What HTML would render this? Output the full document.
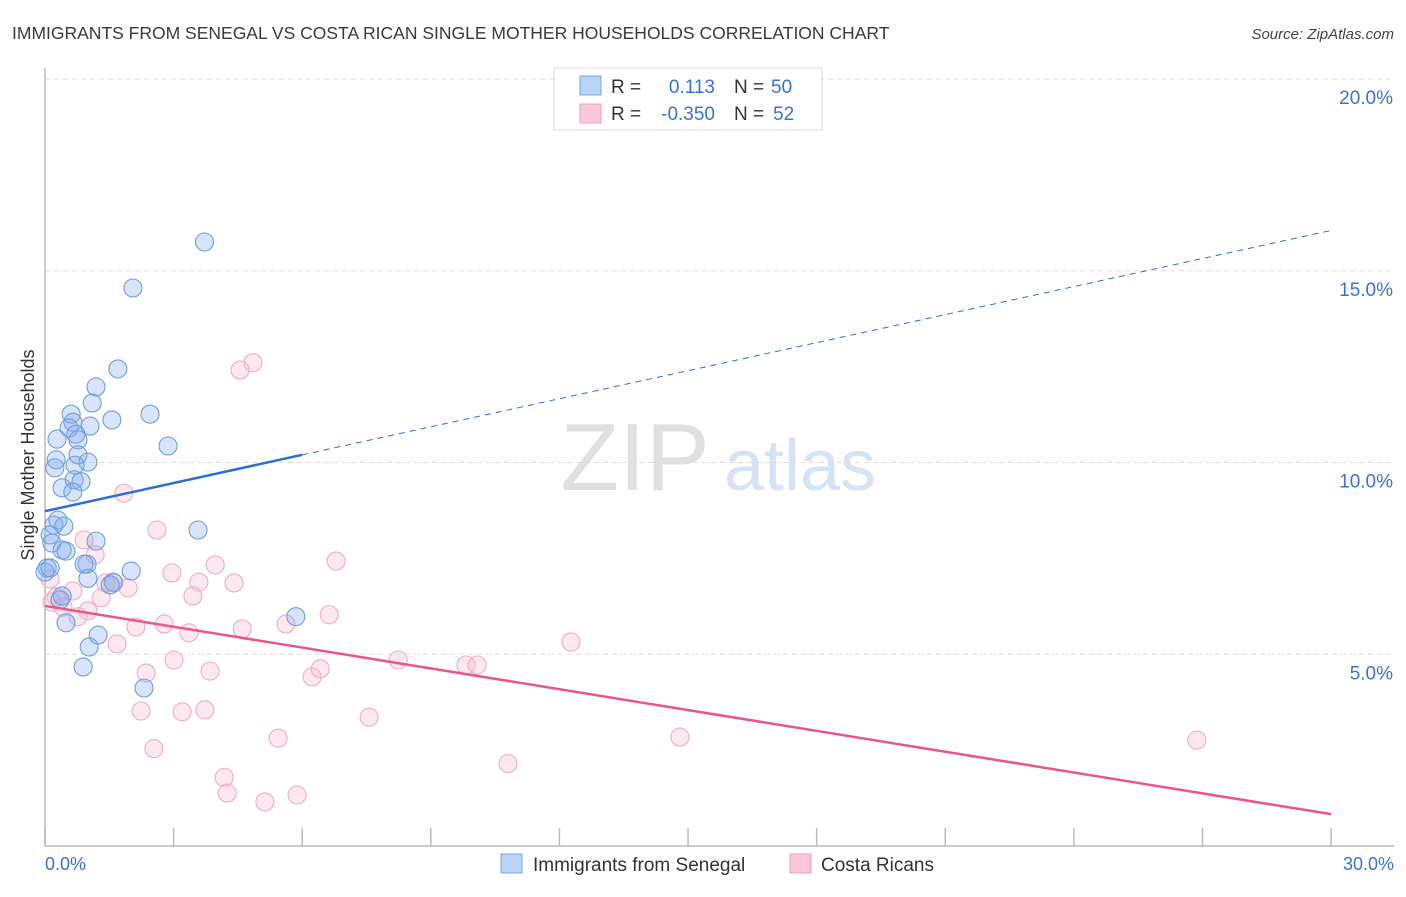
<!DOCTYPE html>
<html><head><meta charset="utf-8"><style>
body{margin:0;background:#fff;font-family:"Liberation Sans",sans-serif;}
svg text{font-family:"Liberation Sans",sans-serif;}
</style></head><body>
<svg id="chart" width="1406" height="892" xmlns="http://www.w3.org/2000/svg">
<text x="12" y="39" font-size="17.5" fill="#3a3a3a">IMMIGRANTS FROM SENEGAL VS COSTA RICAN SINGLE MOTHER HOUSEHOLDS CORRELATION CHART</text>
<text x="1394" y="39" font-size="15" fill="#444" font-style="italic" text-anchor="end">Source: ZipAtlas.com</text>
<g>
<text x="635" y="490" font-size="96" fill="#e0e0e0" font-family="Liberation Serif, serif" text-anchor="middle">ZIP</text>
<text x="800" y="490" font-size="72" fill="#d4e3f6" text-anchor="middle">atlas</text>
</g>
<g id="grid"></g>
<g id="axes"></g>
<g id="pts"></g>
<g id="lines"></g>
<text x="34" y="455" font-size="18" fill="#333" text-anchor="middle" transform="rotate(-90 34 455)">Single Mother Households</text>
<g>
<rect x="554" y="68" width="268" height="62" fill="#fff" stroke="#ddd"/>
<rect x="580" y="76" width="21" height="19" fill="#b8d3f5" stroke="#7aa6e0"/>
<rect x="580" y="104" width="21" height="19" fill="#fcc8d8" stroke="#eca0bb"/>
<text x="611" y="93" font-size="19" fill="#333">R =</text>
<text x="715" y="93" font-size="19" fill="#3a74d0" text-anchor="end">0.113</text>
<text x="734" y="93" font-size="19" fill="#333">N =</text>
<text x="771" y="93" font-size="19" fill="#3a74d0">50</text>
<text x="611" y="120" font-size="19" fill="#333">R =</text>
<text x="715" y="120" font-size="19" fill="#3a74d0" text-anchor="end">-0.350</text>
<text x="734" y="120" font-size="19" fill="#333">N =</text>
<text x="773" y="120" font-size="19" fill="#3a74d0">52</text>
</g>
<g>
<rect x="501" y="854" width="21" height="19" fill="#b8d3f5" stroke="#7aa6e0"/>
<text x="533" y="871" font-size="19" fill="#333">Immigrants from Senegal</text>
<rect x="790" y="854" width="21" height="19" fill="#fcc8d8" stroke="#eca0bb"/>
<text x="821" y="871" font-size="19" fill="#333">Costa Ricans</text>
</g>
</svg>
<script>
const xTicks=[0,3,6,9,12,15,18,21,24,27,30];
const yTicks=[5,10,15,20];
const blueX=[3.72,2.05,1.70,1.19,1.10,0.61,2.45,1.56,0.65,0.56,1.05,0.72,0.28,0.77,2.87,0.77,0.26,1.00,0.70,0.23,0.68,0.84,0.40,0.65,0.21,0.30,0.44,0.12,0.16,1.19,0.40,0.49,0.98,0.91,0.05,0.00,1.00,1.59,2.01,3.57,5.85,0.40,0.49,1.24,1.03,0.89,2.31,0.12,0.35,1.52];
const blueY=[15.75,14.55,12.44,11.97,11.55,11.26,11.26,11.11,11.05,10.90,10.95,10.74,10.61,10.59,10.43,10.20,10.07,10.01,9.93,9.86,9.55,9.50,9.34,9.23,8.37,8.50,8.34,8.11,7.90,7.95,7.72,7.69,7.35,7.35,7.25,7.14,6.98,6.88,7.17,8.24,5.98,6.52,5.82,5.50,5.19,4.67,4.12,7.25,6.42,6.81];
const pinkX=[4.85,4.55,1.84,2.61,0.91,1.17,6.79,3.97,2.96,3.59,4.41,1.42,1.61,1.94,0.65,0.26,0.16,1.31,3.45,0.42,1.00,0.77,6.63,2.78,2.12,4.60,3.36,5.62,1.68,12.27,3.01,8.24,9.82,10.08,6.42,3.85,6.23,2.36,2.24,3.20,3.73,7.56,5.44,14.81,26.87,2.54,10.80,4.18,4.25,5.13,5.88,0.12];
const pinkY=[12.60,12.41,9.20,8.24,7.98,7.59,7.43,7.33,7.12,6.88,6.86,6.86,6.86,6.73,6.65,6.49,6.36,6.47,6.52,6.23,6.13,5.98,6.03,5.79,5.71,5.66,5.56,5.79,5.27,5.32,4.85,4.85,4.72,4.72,4.62,4.56,4.41,4.51,3.52,3.50,3.55,3.36,2.81,2.84,2.76,2.54,2.15,1.79,1.38,1.15,1.33,6.96];
const blueTrend=[0.113,[0,8.73],[6,10.2],[30,16.05]];
const pinkTrend=[[0,6.26],[30,0.83]];
const X=v=>45+v*42.87, Y=v=>846-v*38.35;
const NS='http://www.w3.org/2000/svg';
function mk(t,a,p){const e=document.createElementNS(NS,t);for(const k in a)e.setAttribute(k,a[k]);document.getElementById(p).appendChild(e);return e;}
let e;
e=mk('line',{x1:45,y1:68,x2:45,y2:846,stroke:'#bbb','stroke-width':1.5},'axes');


e=mk('line',{x1:45,y1:846,x2:1394,y2:846,stroke:'#bbb','stroke-width':1.5},'axes');


xTicks.forEach(v=>{e=mk('line',{x1:X(v),y1:828,x2:X(v),y2:846,stroke:'#bbb','stroke-width':1.5},'axes');

});
[[0,'0.0%','start',45],[30,'30.0%','end',1394]].forEach(d=>{e=mk('text',{x:d[3],y:870,'font-size':18,fill:'#3a74d0','text-anchor':d[2]},'axes');e.textContent=d[1];

});
yTicks.forEach(v=>{e=mk('line',{x1:45,y1:Y(v),x2:1394,y2:Y(v),stroke:'#ddd','stroke-dasharray':'5,4'},'grid');


e=mk('text',{x:1393,y:Y(v)+25,'font-size':19,fill:'#3a74d0','text-anchor':'end'},'axes');e.textContent=v.toFixed(1)+'%';

});
pinkX.forEach((v,i)=>{e=mk('circle',{cx:X(v),cy:Y(pinkY[i]),r:9,fill:'rgba(248,182,204,0.32)',stroke:'#f0abc4','stroke-width':1.1},'pts');

});
blueX.forEach((v,i)=>{e=mk('circle',{cx:X(v),cy:Y(blueY[i]),r:9,fill:'rgba(130,172,236,0.32)',stroke:'#6e9edf','stroke-width':1.1},'pts');

});
const b=blueTrend;
e=mk('line',{x1:X(b[1][0]),y1:Y(b[1][1]),x2:X(b[2][0]),y2:Y(b[2][1]),stroke:'#2a6fd6','stroke-width':2.5},'lines');


e=mk('line',{x1:X(b[2][0]),y1:Y(b[2][1]),x2:X(b[3][0]),y2:Y(b[3][1]),stroke:'#2a6fd6','stroke-width':1,'stroke-dasharray':'6,5'},'lines');


e=mk('line',{x1:X(pinkTrend[0][0]),y1:Y(pinkTrend[0][1]),x2:X(pinkTrend[1][0]),y2:Y(pinkTrend[1][1]),stroke:'#e8578a','stroke-width':2.5},'lines');


</script>
</body></html>
